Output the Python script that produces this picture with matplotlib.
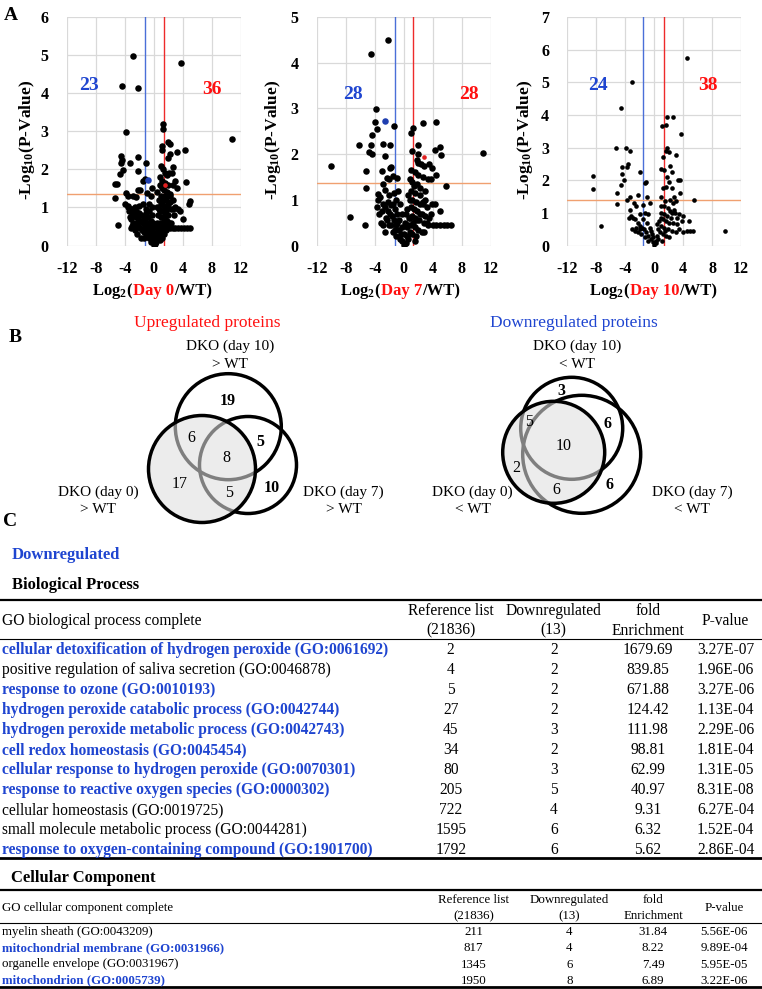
import matplotlib
matplotlib.use("Agg")
import matplotlib.pyplot as plt
from matplotlib.patches import Circle
from matplotlib.lines import Line2D

plt.rcParams["font.family"] = ["Liberation Serif", "DejaVu Serif"]
plt.rcParams["mathtext.fontset"] = "custom"
plt.rcParams["mathtext.rm"] = "Liberation Serif"
plt.rcParams["mathtext.it"] = "Liberation Serif:italic"
plt.rcParams["mathtext.bf"] = "Liberation Serif:bold"
plt.rcParams["axes.unicode_minus"] = False

BLUE = "#1f45d0"
RED = "#ff1010"
W, H = 762, 989

# ---- panel A: volcano plots (log2 fold change, -log10 p) ----
day0_pts = [
    (-2.9, 4.97), (3.7, 4.8), (-4.4, 4.19), (-2.1, 4.13), (-3.8, 2.98), (10.85, 2.8),
    (1.24, 3.18), (1.24, 3.05), (1.1, 2.6), (1.2, 2.5), (2.0, 2.71), (2.3, 2.67), (3.2, 2.45),
    (4.3, 2.5), (2.3, 2.4), (2.0, 2.3), (-4.5, 2.34), (-4.4, 2.25), (-4.55, 2.16), (-3.3, 2.17),
    (-2.1, 2.32), (-1.1, 2.16), (-2.2, 1.95), (-4.7, 1.87), (-4.3, 1.99), (-5.0, 1.62),
    (-5.3, 1.62), (-5.3, 1.25), (-3.8, 1.38), (-1.9, 1.45), (-2.4, 1.27), (-1.5, 1.1),
    (-0.9, 1.38), (4.4, 1.66), (5.0, 1.18), (4.8, 1.08), (3.6, 0.9), (4.0, 0.7), (3.3, 0.95),
    (-4.9, 0.53), (-1.5, 1.7), (-1.2, 1.75), (-3.9, 1.1), (-3.6, 1.0), (-2.2, 1.45),
    (1.8, 0.45), (2.2, 0.45), (2.6, 0.45), (3.0, 0.45), (3.4, 0.45), (3.8, 0.45), (4.2, 0.45),
    (4.6, 0.45), (5.0, 0.45),
    (1.0, 2.1), (1.3, 2.0), (1.5, 1.9), (1.8, 1.85), (2.1, 1.9), (2.5, 1.9), (1.2, 1.7),
    (1.6, 1.65), (2.0, 1.6), (2.7, 1.6), (3.0, 1.7), (1.1, 1.5), (1.4, 1.45), (1.9, 1.4),
    (2.3, 1.35), (1.0, 1.3), (1.3, 1.25), (1.7, 1.2), (2.2, 1.15), (2.6, 1.2), (1.0, 1.1),
    (1.4, 1.05), (1.8, 1.0), (2.4, 0.95), (1.2, 0.9), (1.6, 0.85), (2.0, 0.8), (2.8, 0.8),
    (1.0, 0.75), (1.4, 0.7), (1.9, 0.65), (2.4, 0.6), (1.1, 0.55), (1.6, 0.5), (1.0, 0.35),
    (1.4, 0.3), (0.8, 0.6), (0.9, 0.9), (0.7, 1.2), (0.9, 1.6), (0.6, 0.45), (0.5, 0.25),
    (0.3, 0.1), (0.2, 0.05), (0.0, 0.02), (0.4, 0.35), (0.7, 0.3), (1.2, 0.2), (3.2, 1.5),
    (3.0, 1.0), (2.6, 2.05),
    (-3.5, 1.05), (-3.2, 0.95), (-3.0, 0.85), (-2.7, 0.8), (-2.4, 0.75), (-2.1, 0.7),
    (-1.8, 0.65), (-1.5, 0.6), (-1.2, 0.5), (-0.9, 0.4), (-0.6, 0.3), (-0.3, 0.15),
    (-3.3, 0.75), (-2.8, 0.6), (-2.5, 0.55), (-2.2, 0.5), (-1.9, 0.45), (-1.6, 0.4),
    (-1.3, 0.35), (-1.0, 0.25), (-0.7, 0.2), (-0.4, 0.1), (-3.0, 0.5), (-2.6, 0.4),
    (-1.4, 0.2), (-0.5, 0.55), (-0.3, 0.8), (-0.2, 1.0), (-0.1, 0.6), (-0.6, 0.9),
    (-1.0, 0.95), (-2.0, 1.05), (-2.6, 1.0), (-3.6, 1.3), (-2.9, 1.3), (-0.4, 1.3),
    (-3.2, 0.45), (-2.3, 0.3), (-1.7, 0.2), (0.1, 0.3), (-0.1, 0.2),
    (-3.4, 0.9), (-3.1, 0.7), (-2.9, 0.95), (-2.5, 0.9), (-2.3, 0.6), (-2.0, 0.85),
    (-1.7, 0.8), (-1.4, 0.75), (-1.2, 0.65), (-0.8, 0.6), (-0.5, 0.45), (-0.2, 0.35),
    (-1.1, 0.85), (-0.8, 0.75), (-0.4, 0.65), (-0.1, 0.45), (0.2, 0.2), (0.5, 0.6),
    (0.3, 0.5), (0.6, 0.8), (0.4, 1.0), (0.8, 0.15), (1.1, 0.45), (1.3, 0.6), (1.5, 0.75),
    (1.7, 0.9), (2.0, 1.1), (2.2, 1.3), (1.5, 1.3), (1.2, 1.15), (0.7, 0.95), (1.7, 0.4),
    (2.1, 0.6), (2.6, 0.95), (0.5, 1.4), (0.8, 1.8), (-0.2, 1.5), (-0.7, 1.1),
]
day0_blue = (-0.8, 1.72)
day0_red = (1.5, 1.58)

day7_pts = [
    (-2.2, 4.49), (-4.5, 4.19), (-3.86, 2.98), (-3.9, 2.70), (-1.34, 2.62), (-3.68, 2.56),
    (-4.37, 2.41), (-6.2, 2.21), (-4.55, 2.19), (-2.85, 2.23), (-1.84, 2.21), (-4.83, 2.05),
    (-4.37, 2.0), (-2.62, 1.95), (-9.97, 1.73), (-5.15, 1.62), (-2.94, 1.64), (-1.93, 1.69),
    (-1.7, 1.72), (-1.47, 1.51), (-0.87, 1.48), (-2.34, 1.47), (-2.0, 1.46), (-2.85, 1.35),
    (-5.15, 1.26), (-3.54, 1.13), (-3.3, 1.06), (-2.62, 1.21), (-7.45, 0.62), (-5.38, 0.44),
    (-2.9, 0.9), (-2.6, 0.85), (-2.2, 0.95), (-1.8, 0.88),
    (1.29, 2.58), (1.06, 2.46), (1.98, 2.21), (1.2, 2.06), (1.98, 2.01), (1.84, 1.86),
    (2.44, 1.78), (2.7, 2.67), (4.4, 2.7), (5.0, 2.15), (4.3, 2.1), (5.1, 1.97), (11.0, 2.02),
    (3.5, 1.78), (3.9, 1.7), (4.4, 1.55), (3.4, 1.45), (3.7, 1.45), (5.8, 1.3), (5.0, 0.75),
    (4.3, 0.9), (3.9, 0.9), (4.0, 0.45), (4.5, 0.45), (5.0, 0.45), (5.5, 0.45), (6.0, 0.45),
    (6.5, 0.45),
    (1.0, 1.65), (1.5, 1.6), (2.0, 1.55), (2.6, 1.5), (1.2, 1.4), (1.8, 1.35), (2.3, 1.25),
    (1.0, 1.2), (1.5, 1.15), (2.9, 1.2), (1.2, 1.0), (1.7, 0.95), (2.2, 0.9), (2.7, 0.95),
    (3.2, 0.85), (1.0, 0.85), (1.4, 0.8), (1.9, 0.75), (2.5, 0.7), (3.0, 0.65), (3.5, 0.6),
    (1.1, 0.65), (1.6, 0.6), (2.1, 0.55), (2.8, 0.5), (3.4, 0.45), (1.0, 0.45), (1.5, 0.4),
    (2.0, 0.35), (2.5, 0.3), (0.8, 0.3), (1.2, 0.25), (0.6, 0.15), (0.3, 0.05), (0.0, 0.02),
    (0.4, 0.4), (0.7, 0.6), (0.5, 0.8), (0.8, 1.0), (0.4, 0.2), (1.7, 0.2), (2.3, 1.1),
    (-0.2, 0.1), (-0.4, 0.25), (-0.7, 0.35), (-1.0, 0.45), (-1.3, 0.55), (-1.6, 0.65),
    (-1.9, 0.7), (-2.2, 0.75), (-2.5, 0.6), (-2.8, 0.45), (-3.1, 0.5), (-3.4, 0.7),
    (-3.7, 0.85), (-1.2, 0.8), (-0.9, 0.7), (-0.6, 0.55), (-0.3, 0.4), (-1.5, 0.3),
    (-1.1, 0.2), (-2.0, 0.45), (-2.6, 0.3), (-3.6, 1.0), (-1.0, 1.0), (-0.5, 0.9),
    (-0.2, 0.7), (-1.4, 1.15), (-0.8, 1.2), (0.2, 0.5),
    (-2.3, 0.55), (-1.7, 0.45), (-1.2, 0.35), (-0.5, 0.15), (-0.9, 0.5), (-1.5, 0.9),
    (-2.0, 1.1), (-3.0, 0.75), (0.1, 0.25), (0.3, 0.7), (0.6, 0.45), (0.9, 0.6), (1.3, 0.5),
    (1.8, 0.55), (2.2, 0.7), (2.6, 0.9), (3.0, 1.0), (1.4, 1.3), (0.9, 1.45), (0.6, 1.1),
    (1.6, 0.1), (2.8, 0.3), (3.2, 0.5), (3.7, 0.7), (2.0, 1.8), (2.8, 1.75),
]
day7_blue = (-2.6, 2.72)
day7_red = (2.85, 1.94)

day10_pts = [
    (4.6, 5.75), (-3.0, 5.02), (-4.55, 4.2), (1.8, 3.95), (2.55, 3.95), (1.1, 3.66),
    (1.7, 3.69), (3.7, 3.43), (-5.3, 2.98), (-3.9, 3.0), (-3.3, 2.9), (1.8, 2.98), (1.6, 2.9),
    (2.1, 2.85), (3.0, 2.78), (1.2, 2.7), (-8.4, 2.13), (-8.5, 1.73), (-7.3, 0.61),
    (-2.0, 2.24), (9.8, 0.45), (5.55, 1.40), (-5.15, 1.6), (-5.15, 1.26), (-4.4, 2.4),
    (-3.6, 2.5), (-3.7, 2.4), (-4.5, 2.2), (-4.2, 2.0), (-4.6, 1.85), (-3.8, 1.4),
    (-3.4, 1.5), (-2.3, 1.55), (-2.8, 1.3), (-1.1, 1.95), (-1.2, 1.9), (-1.0, 1.5),
    (-0.6, 1.3), (1.0, 2.35), (1.4, 2.3), (2.2, 2.45), (2.5, 2.25), (1.8, 2.1), (3.3, 2.0),
    (3.6, 2.0), (2.0, 1.95), (1.2, 1.75), (1.6, 1.8), (2.4, 1.75), (3.6, 1.6), (2.8, 1.5),
    (1.0, 1.5), (1.5, 1.35), (2.2, 1.4), (3.0, 1.35), (2.6, 1.3), (0.9, 1.2), (1.9, 1.15),
    (2.9, 1.0), (3.4, 0.95), (4.0, 0.9), (3.8, 0.75), (4.8, 0.75), (4.5, 0.45), (5.0, 0.45),
    (5.3, 0.45), (4.0, 0.4),
    (1.0, 1.0), (1.4, 0.95), (1.8, 0.9), (2.3, 0.85), (1.2, 0.8), (1.6, 0.75), (2.0, 0.7),
    (2.6, 0.7), (3.1, 0.65), (1.0, 0.6), (1.4, 0.55), (1.9, 0.5), (2.4, 0.45), (3.0, 0.4),
    (3.5, 0.5), (0.8, 0.4), (1.2, 0.35), (1.7, 0.3), (0.6, 0.2), (0.3, 0.08), (0.0, 0.02),
    (0.5, 0.5), (0.7, 0.75), (0.4, 0.3), (1.1, 0.15), (2.2, 1.05), (2.7, 1.1),
    (-0.2, 0.1), (-0.5, 0.2), (-0.8, 0.3), (-1.1, 0.4), (-1.4, 0.5), (-1.7, 0.55),
    (-2.0, 0.6), (-2.3, 0.7), (-2.6, 0.8), (-2.9, 0.85), (-3.2, 0.9), (-3.5, 0.85),
    (-3.0, 0.5), (-2.7, 0.45), (-2.2, 0.4), (-1.8, 0.35), (-1.3, 0.25), (-0.9, 0.15),
    (-1.5, 0.8), (-1.0, 0.7), (-0.6, 0.55), (-0.3, 0.35), (-2.0, 0.95), (-1.3, 1.0),
    (-0.8, 0.95), (-3.4, 1.1), (-2.5, 1.2), (-1.6, 1.25),
    (-0.4, 0.45), (-0.1, 0.25), (0.2, 0.15), (0.4, 0.65), (0.9, 0.85), (1.3, 1.2),
    (1.5, 0.45), (2.0, 0.25), (2.5, 1.0), (3.2, 0.85), (-1.9, 0.5), (-2.5, 0.55),
]

# threshold lines: (blue x, red x, orange y)
day0_lines = (-1.2, 1.38, 1.35)
day7_lines = (-1.2, 1.33, 1.37)
day10_lines = (-1.5, 1.4, 1.4)

down_counts = [23, 28, 24]
up_counts = [36, 28, 38]
day_names = ["Day 0", "Day 7", "Day 10"]
y_tops = [6, 5, 7]

# ---- panel B: Venn counts ----
up_region_counts = [19, 6, 8, 5, 17, 5, 10]
down_region_counts = [3, 5, 6, 10, 2, 6, 6]

# ---- panel C: GO tables ----
bp_terms = [
    "cellular detoxification of hydrogen peroxide (GO:0061692)",
    "positive regulation of saliva secretion (GO:0046878)",
    "response to ozone (GO:0010193)",
    "hydrogen peroxide catabolic process (GO:0042744)",
    "hydrogen peroxide metabolic process (GO:0042743)",
    "cell redox homeostasis (GO:0045454)",
    "cellular response to hydrogen peroxide (GO:0070301)",
    "response to reactive oxygen species (GO:0000302)",
    "cellular homeostasis (GO:0019725)",
    "small molecule metabolic process (GO:0044281)",
    "response to oxygen-containing compound (GO:1901700)",
]
bp_ref = [2, 4, 5, 27, 45, 34, 80, 205, 722, 1595, 1792]
bp_down = [2, 2, 2, 2, 3, 2, 3, 5, 4, 6, 6]
bp_fold = [1679.69, 839.85, 671.88, 124.42, 111.98, 98.81, 62.99, 40.97, 9.31, 6.32, 5.62]
bp_pval = [3.27e-07, 1.96e-06, 3.27e-06, 1.13e-04, 2.29e-06, 1.81e-04, 1.31e-05,
           8.31e-08, 6.27e-04, 1.52e-04, 2.86e-04]
bp_hi = [1, 0, 1, 1, 1, 1, 1, 1, 0, 0, 1]

cc_terms = [
    "myelin sheath (GO:0043209)",
    "mitochondrial membrane (GO:0031966)",
    "organelle envelope (GO:0031967)",
    "mitochondrion (GO:0005739)",
]
cc_ref = [211, 817, 1345, 1950]
cc_down = [4, 4, 6, 8]
cc_fold = [31.84, 8.22, 7.49, 6.89]
cc_pval = [5.56e-06, 9.89e-04, 5.95e-05, 3.22e-06]
cc_hi = [0, 1, 0, 1]

fig = plt.figure(figsize=(W / 100, H / 100), dpi=100)
ov = fig.add_axes([0, 0, 1, 1])
ov.set_xlim(0, W)
ov.set_ylim(H, 0)
ov.axis("off")
ov.patch.set_visible(False)


def px_rect(x0, x1, y0, y1):
    return [x0 / W, 1 - y1 / H, (x1 - x0) / W, (y1 - y0) / H]


def volcano(i, x0, x1, pts, blue, red, lines, size, count_pos):
    ax = fig.add_axes(px_rect(x0, x1, 17, 245.5), zorder=2)
    ax.patch.set_visible(False)
    xs = [p[0] for p in pts]
    ys = [p[1] for p in pts]
    ax.scatter(xs, ys, s=size, color="black", linewidths=0, zorder=3)
    if blue:
        ax.scatter([blue[0]], [blue[1]], s=size, color="#1f3fb0", linewidths=0, zorder=4)
    if red:
        ax.scatter([red[0]], [red[1]], s=size * 0.5, color="#e02020", linewidths=0, zorder=4)
    ax.axvline(lines[0], color="#4a6fd8", lw=1.0, zorder=2)
    ax.axvline(lines[1], color="#ee2a2a", lw=1.0, zorder=2)
    ax.axhline(lines[2], color="#f0a070", lw=1.0, zorder=2)
    ax.set_xlim(-12, 12)
    ax.set_ylim(0, y_tops[i])
    ax.set_xticks(range(-12, 13, 4))
    ax.set_yticks(range(0, y_tops[i] + 1))
    ax.grid(True, color="#d9d9d9", lw=0.9, zorder=0)
    ax.set_axisbelow(True)
    for s in ax.spines.values():
        s.set_visible(False)
    ax.tick_params(length=0, labelsize=11.5)
    ax.tick_params(axis="x", pad=11)
    ax.tick_params(axis="y", pad=13)
    for lab in ax.get_xticklabels() + ax.get_yticklabels():
        lab.set_fontweight("bold")
    (bx, by), (rx, ry) = count_pos
    ax.text(bx, by, str(down_counts[i]), color=BLUE, fontsize=14,
            fontweight="bold", ha="center", va="center")
    ax.text(rx, ry, str(up_counts[i]), color=RED, fontsize=14,
            fontweight="bold", ha="center", va="center")
    return ax


volcano(0, 66.7, 240.7, day0_pts, day0_blue, day0_red, day0_lines, 22,
        [(-8.9, 4.2), (8.0, 4.1)])
volcano(1, 316.7, 490.7, day7_pts, day7_blue, day7_red, day7_lines, 22,
        [(-7.0, 3.3), (9.0, 3.3)])
volcano(2, 567.3, 741, day10_pts, None, None, day10_lines, 11,
        [(-7.7, 4.9), (7.4, 4.9)])

renderer = fig.canvas.get_renderer()


def colored_text(cx, base_y, parts, size, weight="bold"):
    items = []
    for s, c in parts:
        t = ov.text(0, base_y, s, color=c, fontsize=size, fontweight=weight,
                    ha="left", va="baseline")
        items.append((t, t.get_window_extent(renderer).width))
    x = cx - sum(w for _, w in items) / 2
    for t, w in items:
        t.set_x(x)
        x += w


for cx, ly, name in zip([151.7, 400, 653.3], [26.7, 273.3, 525], day_names):
    colored_text(cx, 295, [(r"Log$_\mathbf{2}$(", "black"), (name, RED), ("/WT)", "black")], 12)
    ov.text(ly, 140, r"-Log$_{\mathbf{10}}$(P-Value)", rotation=90, fontsize=12.5,
            fontweight="bold", ha="center", va="center")

for letter, (lx, ly) in zip("ABC", [(10.5, 15), (15, 337), (10, 522)]):
    ov.text(lx, ly, letter, fontsize=14, fontweight="bold", ha="center", va="center")


# ---- Venn diagrams ----
def venn(circles, counts, count_xy, bold):
    top, gray, right = circles
    for (cx, cy, r) in (top, right):
        ov.add_patch(Circle((cx, cy), r, fill=False, ec="black", lw=2.5, zorder=3))
    fill = Circle(gray[:2], gray[2], fc="#ececec", ec="none", zorder=4)
    ov.add_patch(fill)
    for (cx, cy, r) in (top, right):
        arc = Circle((cx, cy), r, fill=False, ec="#7f7f7f", lw=2.5, zorder=5)
        ov.add_patch(arc)
        arc.set_clip_path(fill)
    ov.add_patch(Circle(gray[:2], gray[2], fill=False, ec="black", lw=2.5, zorder=6))
    for n, (x, y), b in zip(counts, count_xy, bold):
        ov.text(x, y, str(n), fontsize=11.5, fontweight="bold" if b else "normal",
                ha="center", va="center", zorder=7)


venn([(228.3, 426.7, 53), (202, 469, 53.5), (248, 465, 48.5)], up_region_counts,
     [(227.3, 401), (191.7, 438.3), (226, 458.3), (260, 441.7), (179.3, 484.3),
      (229.3, 493.3), (271.7, 487.7)], [1, 0, 0, 1, 0, 0, 1])
venn([(571.7, 428.3, 51), (553.7, 452.3, 51), (581.7, 454.3, 59)], down_region_counts,
     [(561, 391), (529.3, 421.7), (607.3, 424.3), (563.3, 446), (516, 468.3),
      (556.7, 490), (609.3, 485)], [1, 0, 1, 0, 0, 0, 1])

ov.text(207.7, 323.3, "Upregulated proteins", color=RED, fontsize=12.5, ha="center", va="center")
ov.text(573.4, 323.3, "Downregulated proteins", color=BLUE, fontsize=12.5, ha="center", va="center")
venn_labels = [
    (229.7, "DKO (day 10)", "> WT", 346.7), (98.2, "DKO (day 0)", "> WT", 492.3),
    (343.6, "DKO (day 7)", "> WT", 492.3), (576.8, "DKO (day 10)", "< WT", 346.7),
    (472.8, "DKO (day 0)", "< WT", 492.3), (692.2, "DKO (day 7)", "< WT", 492.3),
]
for x, l1, l2, y in venn_labels:
    ov.text(x, y, l1, fontsize=11, ha="center", va="center")
    ov.text(x, y + 17.5, l2, fontsize=11, ha="center", va="center")


# ---- GO tables ----
def hline(y, lw):
    ov.add_line(Line2D([0, W], [y, y], color="black", lw=lw))


def go_table(y_top, head_title, cols, row_y0, dy, terms, ref, down, fold, pval, hi, fs):
    hline(y_top, 1.6)
    hy = (y_top + row_y0 - dy / 2) / 2 + 1
    ov.text(2.5, hy, head_title, fontsize=fs, ha="left", va="center")
    for cx, (a, b) in zip(cols, [("Reference list", "(21836)"), ("Downregulated", "(13)"),
                                 ("fold", "Enrichment")]):
        ov.text(cx, hy - dy * 0.48, a, fontsize=fs, ha="center", va="center")
        ov.text(cx, hy + dy * 0.48, b, fontsize=fs, ha="center", va="center")
    ov.text(cols[3], hy, "P-value", fontsize=fs, ha="center", va="center")
    hline(row_y0 - dy * 0.55, 0.8)
    for k, term in enumerate(terms):
        y = row_y0 + k * dy
        color, weight = (BLUE, "bold") if hi[k] else ("black", "normal")
        ov.text(2.5, y, term, fontsize=fs, color=color, fontweight=weight, ha="left", va="center")
        vals = [str(ref[k]), str(down[k]), f"{fold[k]:.2f}", f"{pval[k]:.2E}"]
        for cx, v in zip(cols, vals):
            ov.text(cx, y, v, fontsize=fs, ha="center", va="center")
    hline(row_y0 + (len(terms) - 1) * dy + dy * 0.4, 2.0)


ov.text(12, 555, "Downregulated", color=BLUE, fontsize=12, fontweight="bold", ha="left", va="center")
ov.text(12, 585, "Biological Process", fontsize=12, fontweight="bold", ha="left", va="center")
go_table(600, "GO biological process complete", [450.7, 553.8, 648, 725.6], 650, 20,
         bp_terms, bp_ref, bp_down, bp_fold, bp_pval, bp_hi, 11.2)

ov.text(11, 878.3, "Cellular Component", fontsize=12, fontweight="bold", ha="left", va="center")
go_table(890, "GO cellular component complete", [473.7, 569.5, 653, 724], 932.3, 16.1,
         cc_terms, cc_ref, cc_down, cc_fold, cc_pval, cc_hi, 9.3)

fig.savefig("out.png", dpi=100)
